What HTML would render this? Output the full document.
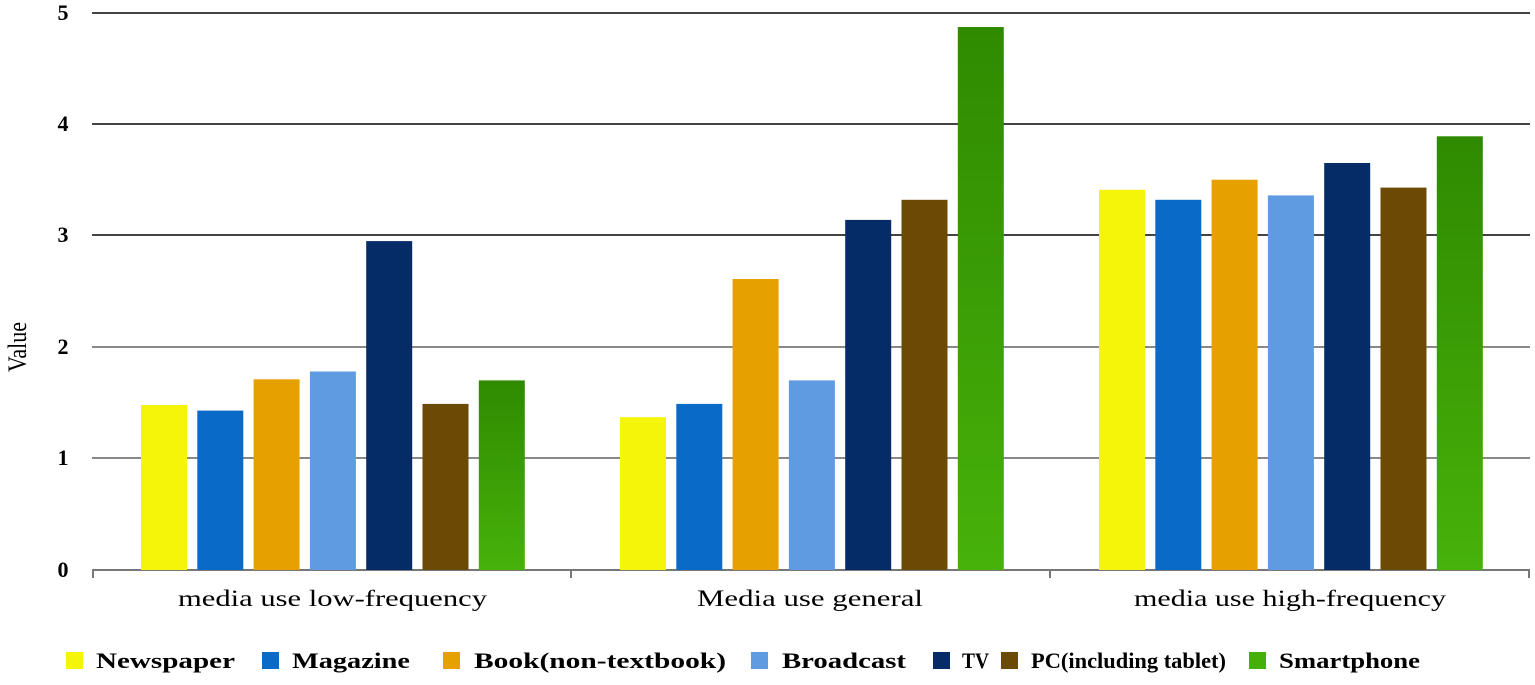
<!DOCTYPE html><html><head><style>body{margin:0;background:#fff}</style></head><body>
<svg width="1535" height="680" xmlns="http://www.w3.org/2000/svg">
<defs><linearGradient id="g" x1="0" y1="0" x2="0" y2="1"><stop offset="0" stop-color="#2f8a00"/><stop offset="1" stop-color="#47b20a"/></linearGradient></defs>
<g stroke="#444" stroke-width="2">
<line x1="92" y1="13" x2="1530" y2="13"/><line x1="92" y1="124" x2="1530" y2="124"/><line x1="92" y1="235" x2="1530" y2="235"/>
<line x1="92" y1="347" x2="1530" y2="347" stroke="#888"/><line x1="92" y1="458" x2="1530" y2="458" stroke="#888"/>
<line x1="92" y1="570" x2="1530" y2="570" stroke="#777"/>
<line x1="93" y1="570" x2="93" y2="578" stroke="#777"/><line x1="571" y1="570" x2="571" y2="578" stroke="#777"/><line x1="1050" y1="570" x2="1050" y2="578" stroke="#777"/><line x1="1529" y1="570" x2="1529" y2="578" stroke="#777"/>
</g>
<g font-family="Liberation Serif, serif" font-size="22" font-weight="bold" text-anchor="middle">
<text x="63" y="20">5</text><text x="63" y="131">4</text><text x="63" y="242">3</text><text x="63" y="354">2</text><text x="63" y="465">1</text><text x="63" y="577">0</text></g>
<text transform="translate(26,347) rotate(-90)" font-family="Liberation Serif, serif" font-size="26" text-anchor="middle" textLength="50" lengthAdjust="spacingAndGlyphs">Value</text>
<g>
<rect x="141" y="405" width="46" height="165" fill="#f5f50a"/>
<rect x="197.3" y="410.6" width="46" height="159.4" fill="#0a6ac8"/>
<rect x="253.6" y="379.3" width="46" height="190.7" fill="#e6a000"/>
<rect x="309.9" y="371.5" width="46" height="198.5" fill="#5f9be0"/>
<rect x="366.2" y="241.1" width="46" height="328.9" fill="#052c66"/>
<rect x="422.5" y="403.9" width="46" height="166.1" fill="#6b4a05"/>
<rect x="478.8" y="380.4" width="46" height="189.6" fill="url(#g)"/>
<rect x="620" y="417.2" width="46" height="152.8" fill="#f5f50a"/>
<rect x="676.3" y="403.9" width="46" height="166.1" fill="#0a6ac8"/>
<rect x="732.6" y="279" width="46" height="291" fill="#e6a000"/>
<rect x="788.9" y="380.4" width="46" height="189.6" fill="#5f9be0"/>
<rect x="845.2" y="219.9" width="46" height="350.1" fill="#052c66"/>
<rect x="901.5" y="199.8" width="46" height="370.2" fill="#6b4a05"/>
<rect x="957.8" y="27" width="46" height="543" fill="url(#g)"/>
<rect x="1099" y="189.8" width="46" height="380.2" fill="#f5f50a"/>
<rect x="1155.3" y="199.8" width="46" height="370.2" fill="#0a6ac8"/>
<rect x="1211.6" y="179.7" width="46" height="390.3" fill="#e6a000"/>
<rect x="1267.9" y="195.4" width="46" height="374.6" fill="#5f9be0"/>
<rect x="1324.2" y="163" width="46" height="407" fill="#052c66"/>
<rect x="1380.5" y="187.6" width="46" height="382.4" fill="#6b4a05"/>
<rect x="1436.8" y="136.3" width="46" height="433.7" fill="url(#g)"/>
</g>
<g font-family="Liberation Serif, serif" font-size="23">
<text x="178" y="606" textLength="309" lengthAdjust="spacingAndGlyphs">media use low-frequency</text>
<text x="697" y="606" textLength="226" lengthAdjust="spacingAndGlyphs">Media use general</text>
<text x="1134" y="606" textLength="312" lengthAdjust="spacingAndGlyphs">media use high-frequency</text></g>
<g font-family="Liberation Serif, serif" font-size="22" font-weight="bold">
<rect x="66" y="652" width="17" height="17" fill="#f5f50a"/><text x="96" y="668" textLength="139" lengthAdjust="spacingAndGlyphs">Newspaper</text>
<rect x="262" y="652" width="17" height="17" fill="#0a6ac8"/><text x="292" y="668" textLength="118" lengthAdjust="spacingAndGlyphs">Magazine</text>
<rect x="443" y="652" width="17" height="17" fill="#e6a000"/><text x="474" y="668" textLength="252" lengthAdjust="spacingAndGlyphs">Book(non-textbook)</text>
<rect x="751" y="652" width="17" height="17" fill="#5f9be0"/><text x="782" y="668" textLength="124" lengthAdjust="spacingAndGlyphs">Broadcast</text>
<rect x="933" y="652" width="17" height="17" fill="#052c66"/><text x="962" y="668" textLength="27" lengthAdjust="spacingAndGlyphs">TV</text>
<rect x="1001" y="652" width="17" height="17" fill="#6b4a05"/><text x="1031" y="668" textLength="195" lengthAdjust="spacingAndGlyphs">PC(including tablet)</text>
<rect x="1249" y="652" width="17" height="17" fill="#46b00a"/><text x="1279" y="668" textLength="141" lengthAdjust="spacingAndGlyphs">Smartphone</text>
</g>
</svg></body></html>
